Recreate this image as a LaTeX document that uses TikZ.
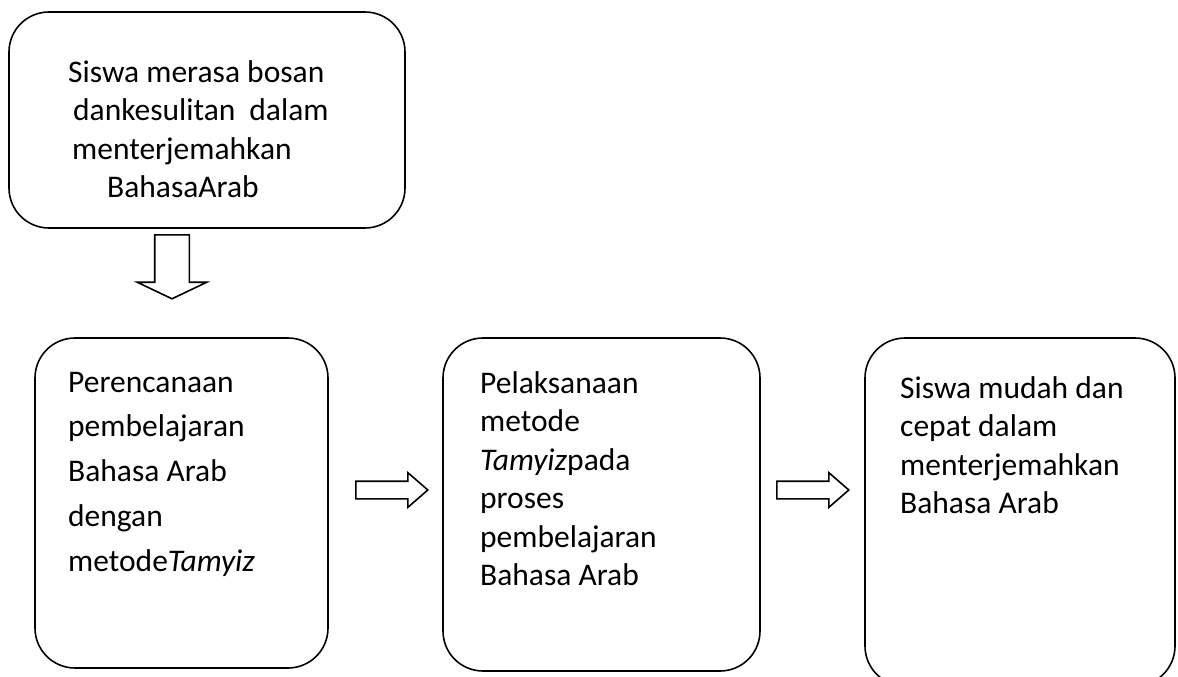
\documentclass[tikz,border=0pt]{standalone}
\usepackage{fontspec}
\setmainfont{Carlito}
\usetikzlibrary{shapes.arrows}

\newcommand\firstline{\rule{0pt}{24pt}}

\begin{document}
\begin{tikzpicture}[
  x=1pt, y=-1pt,
  box/.style={draw, line width=1.6pt, rounded corners=40pt, inner sep=0pt},
  txt/.style={anchor=north west, align=left, inner sep=0pt,
              font=\fontsize{31.5}{38.5}\selectfont},
  wtxt/.style={txt, font=\fontsize{31.5}{44.75}\selectfont},
  rarrow/.style={single arrow, draw, line width=1.6pt, anchor=tail,
                 inner xsep=0pt, inner ysep=8pt, minimum height=72pt,
                 single arrow head extend=8.5pt, single arrow tip angle=82},
  darrow/.style={single arrow, draw, line width=1.6pt, anchor=tail, rotate=-90,
                 inner xsep=0pt, inner ysep=16.5pt, minimum height=64pt,
                 single arrow head extend=17.5pt, single arrow tip angle=129}
]
\useasboundingbox (0,0) rectangle (1178,677);

% boxes
\node[box, minimum width=396pt, minimum height=216pt] (masalah) at (207,120) {};
\node[box, minimum width=293pt, minimum height=330pt] (rencana) at (181.5,503) {};
\node[box, minimum width=317pt, minimum height=333pt] (laksana) at (601.5,504.5) {};
\node[box, minimum width=310pt, minimum height=348pt] (hasil) at (1020,512) {};

% texts (first baseline 24pt below the anchor)
\node[txt] (tmasalah) at (68,82-24)
  {\firstline Siswa merasa bosan\\
   \hspace*{5pt}dankesulitan\hspace{14pt}dalam\\
   \hspace*{4pt}menterjemahkan\\
   \hspace*{39pt}BahasaArab};
\node[wtxt] (trencana) at (68,392-24)
  {\firstline Perencanaan\\pembelajaran\\Bahasa Arab\\dengan\\metode\textit{Tamyiz}};
\node[txt] (tlaksana) at (480,393-24)
  {\firstline Pelaksanaan\\metode\\\textit{Tamyiz}pada\\proses\\pembelajaran\\Bahasa Arab};
\node[txt] (thasil) at (900,398-24)
  {\firstline Siswa mudah dan\\cepat dalam\\menterjemahkan\\Bahasa Arab};

% block arrows
\node[darrow] (panah0) at (172,234) {};
\node[rarrow] (panah1) at (355,490) {};
\node[rarrow] (panah2) at (776,490) {};

\end{tikzpicture}
\end{document}
